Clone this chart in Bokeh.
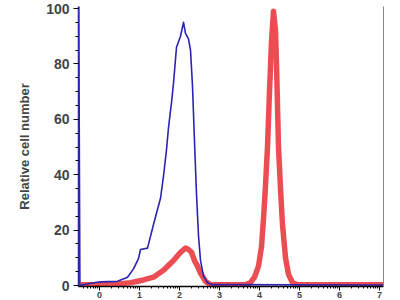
from bokeh.plotting import figure
from bokeh.models import Range1d, FixedTicker, LinearAxis
from bokeh.embed import file_html
from bokeh.resources import INLINE
import numpy as np

# x in decades of fluorescence intensity, y = relative cell number
blue_x = [-0.52, -0.49, -0.15, 0.025, 0.45, 0.625, 0.7, 0.85, 0.975, 1.025, 1.2, 1.35,
          1.525, 1.6, 1.675, 1.725, 1.8, 1.85, 1.925, 1.975, 2.025, 2.1, 2.15, 2.225,
          2.275, 2.325, 2.375, 2.425, 2.475, 2.525, 2.6, 2.7, 2.825, 7.1]
blue_y = [105, 0, 1, 1.3, 1.5, 2.5, 3, 6, 9.7, 13, 13.5, 22,
          31.5, 39.5, 49, 57, 66, 73, 86, 88, 90, 95, 91, 89,
          85, 72, 52, 33, 18, 9, 3.5, 1, 0.3, 0.2]

red_x = [-0.475, 0.025, 0.4, 0.775, 1.1, 1.35, 1.6, 1.85, 2.025, 2.15, 2.225, 2.3,
         2.375, 2.45, 2.525, 2.65, 2.775, 3.65, 3.775, 3.875, 3.975, 4.05, 4.1, 4.15,
         4.2, 4.25, 4.3, 4.35, 4.4, 4.425, 4.45, 4.475, 4.525, 4.575, 4.65, 4.725,
         4.825, 4.95, 7.1]
red_y = [0.3, 0.3, 0.5, 1, 2, 3, 5.5, 9, 12, 13.5, 13, 12,
         9, 7, 4.5, 1.5, 0.3, 0.3, 1, 3, 7, 14, 24, 36,
         50, 70, 88, 99, 92, 80, 65, 50, 35, 22, 10, 4,
         1, 0.3, 0.3]

x_ticks = [0, 1, 2, 3, 4, 5, 6, 7]
x_tick_labels = ["0", "1", "2", "3", "4", "5", "6", "7"]
y_ticks = [0, 20, 40, 60, 80, 100]

minor = [d + np.log10(k) for d in range(-1, 8) for k in range(2, 10)]
minor = [float(m) for m in minor if -0.52 < m < 7.1]

p = figure(width=400, height=300, output_backend="svg", toolbar_location=None,
           x_range=Range1d(-0.525, 7.1), y_range=Range1d(-0.36, 100.73),
           min_border_left=78, min_border_right=17, min_border_top=6, min_border_bottom=0)
p.outline_line_color = None
p.xgrid.visible = False
p.ygrid.visible = False
p.background_fill_color = "white"
p.border_fill_color = "white"

p.line(red_x, red_y, line_color="#ea3a3f", line_width=5.5, line_alpha=0.9, line_join="round")
p.line(blue_x, blue_y, line_color="#2a24b4", line_width=1.6, line_join="round")

xa = p.xaxis[0]
xa.ticker = FixedTicker(ticks=x_ticks, minor_ticks=minor)
xa.major_label_overrides = {t: l for t, l in zip(x_ticks, x_tick_labels)}
xa.major_label_text_font = "Liberation Sans"
xa.major_label_text_font_style = "bold"
xa.major_label_text_font_size = "9px"
xa.major_label_standoff = 1
xa.major_tick_out = 4
xa.major_tick_in = 0
xa.minor_tick_out = 2
xa.minor_tick_in = 0
xa.axis_line_color = "black"
xa.axis_line_width = 1.5

ya = p.yaxis[0]
ya.ticker = FixedTicker(ticks=y_ticks, minor_ticks=[v for v in range(0, 101, 5)])
ya.axis_label = "Relative cell number"
ya.axis_label_text_font = "Liberation Sans"
ya.axis_label_text_font_style = "bold"
ya.axis_label_text_font_size = "13px"
ya.axis_label_standoff = 11
ya.major_label_text_font = "Liberation Sans"
ya.major_label_text_font_style = "bold"
ya.major_label_text_font_size = "14px"
ya.major_label_standoff = 4
ya.major_tick_out = 5
ya.major_tick_in = 0
ya.minor_tick_out = 3
ya.minor_tick_in = 0
ya.axis_line_color = "#2a24b4"
ya.axis_line_width = 1.5

ra = LinearAxis(major_tick_line_color=None, minor_tick_line_color=None,
                major_label_text_font_size="0px", axis_line_color="#888888",
                axis_line_width=1)
ra.ticker = FixedTicker(ticks=[])
p.add_layout(ra, "right")

open("out.html", "w").write(file_html(p, INLINE))
